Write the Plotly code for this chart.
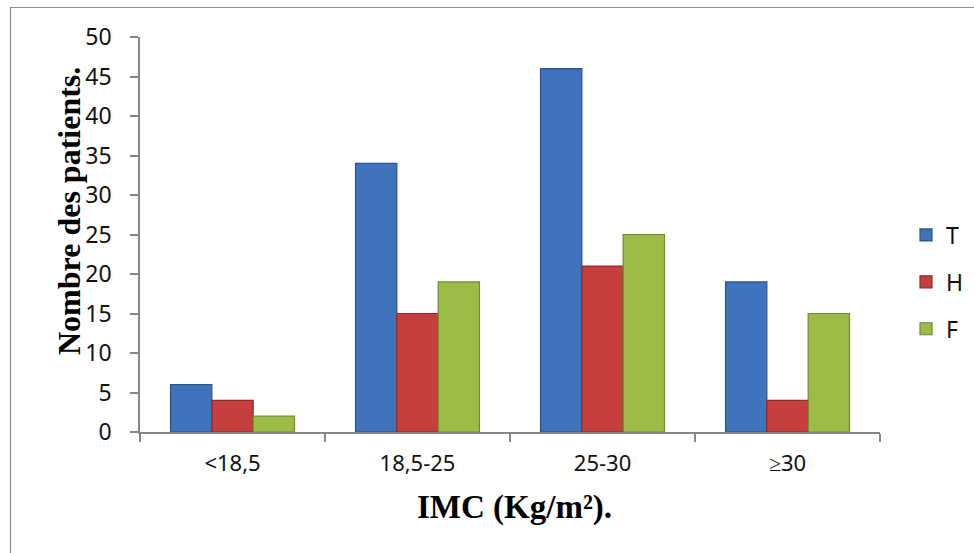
import plotly.graph_objects as go

categories = ["<18,5", "18,5-25", "25-30", "≥30"]
series_names = ["T", "H", "F"]
values_T = [6, 34, 46, 19]
values_H = [4, 15, 21, 4]
values_F = [2, 19, 25, 15]
y_ticks = [0, 5, 10, 15, 20, 25, 30, 35, 40, 45, 50]

colors = ["#3F74BC", "#C63F3E", "#9CBC47"]
edges = ["#2B5288", "#8C2B2A", "#6F8A2F"]

W, H = 974, 553
L, R, T, B = 140, 94, 37, 121
pw, ph = W - L - R, H - T - B

def px_x(p):
    return (p - L) / pw

def px_y(p):
    return (H - B - p) / ph

fig = go.Figure()
for name, vals, c, e in zip(series_names, [values_T, values_H, values_F], colors, edges):
    fig.add_trace(go.Bar(
        x=categories, y=vals, name=name,
        marker=dict(color=c, line=dict(color=e, width=1.2)),
        legendgroup=name,
    ))

fig.update_layout(
    width=W, height=H,
    margin=dict(l=L, r=R, t=T, b=B, autoexpand=False),
    paper_bgcolor="white", plot_bgcolor="white",
    barmode="group", bargap=0.33, bargroupgap=0,
    showlegend=True,
    legend=dict(x=px_x(906), xanchor="left", y=px_y(282), yanchor="middle",
                font=dict(family="Noto Sans", size=23, color="#111"),
                tracegroupgap=14, bgcolor="rgba(0,0,0,0)"),
    xaxis=dict(showline=True, linecolor="#868686", linewidth=1.5,
               ticks="outside", ticklen=8, tickcolor="#868686", tickwidth=1.5,
               tickson="boundaries", tickfont=dict(family="Noto Sans", size=22, color="#111"),
               ticklabelstandoff=11, showgrid=False, zeroline=False),
    yaxis=dict(range=[0, 50], tickvals=y_ticks, showline=True, linecolor="#868686",
               linewidth=1.5, ticks="outside", ticklen=8, tickcolor="#868686",
               tickwidth=1.5, tickfont=dict(family="Noto Sans", size=23, color="#111"),
               ticklabelstandoff=14, showgrid=False, zeroline=False),
    annotations=[
        dict(text="<b>Nombre des patients.</b>", textangle=-90, xref="paper", yref="paper",
             x=px_x(69), y=px_y(211), xanchor="center", yanchor="middle", showarrow=False,
             font=dict(family="Liberation Serif", size=32, color="#000")),
        dict(text="<b>IMC (Kg/m²).</b>", xref="paper", yref="paper",
             x=px_x(514), y=px_y(508), xanchor="center", yanchor="middle", showarrow=False,
             font=dict(family="Liberation Serif", size=33, color="#000")),
    ],
    shapes=[
        dict(type="line", xref="paper", yref="paper", x0=px_x(10), x1=px_x(1000),
             y0=px_y(7.5), y1=px_y(7.5), line=dict(color="#8C8C8C", width=1.2)),
        dict(type="line", xref="paper", yref="paper", x0=px_x(10.5), x1=px_x(10.5),
             y0=px_y(7), y1=px_y(600), line=dict(color="#8C8C8C", width=1.2)),
    ],
)

fig.write_html("out.html")
